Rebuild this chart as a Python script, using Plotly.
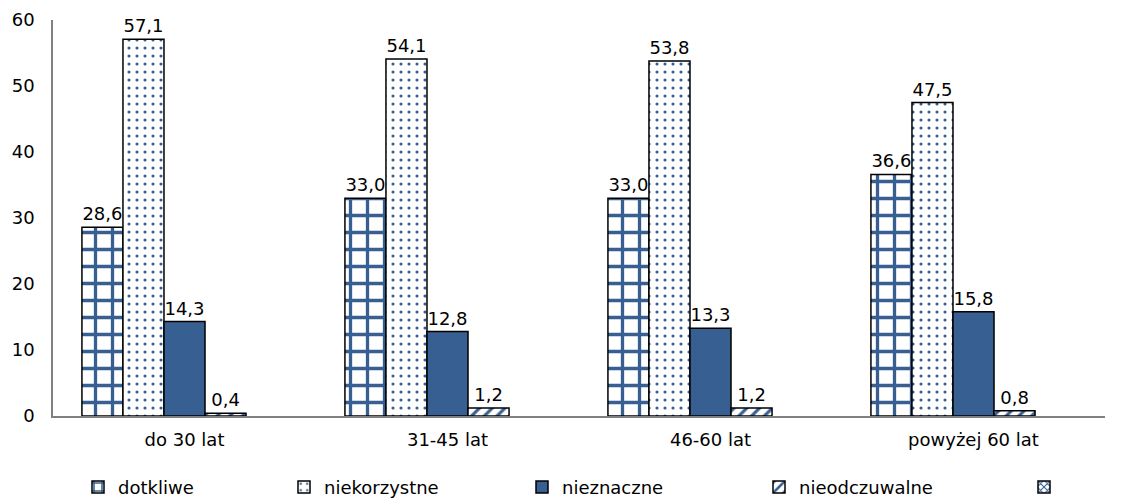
import plotly.graph_objects as go

categories = ["do 30 lat", "31-45 lat", "46-60 lat", "powyżej 60 lat"]
dotkliwe = [28.6, 33.0, 33.0, 36.6]
niekorzystne = [57.1, 54.1, 53.8, 47.5]
nieznaczne = [14.3, 12.8, 13.3, 15.8]
nieodczuwalne = [0.4, 1.2, 1.2, 0.8]
y_ticks = [0, 10, 20, 30, 40, 50, 60]

BLUE = "#375F92"
FONT = "DejaVu Sans"

def lab(vals):
    return [f"{v:.1f}".replace(".", ",") for v in vals]

# legend symbol left edges in the reference (pixels), converted to paper x
legend_px = [96, 302, 540, 777, 1042]
def lx(px):
    return (px - 18 - 53) / 1052

fig = go.Figure()
series = [
    ("dotkliwe", dotkliwe, dict(shape="+", size=17, solidity=0.35)),
    ("niekorzystne", niekorzystne, dict(shape=".", size=8, solidity=0.12)),
    ("nieznaczne", nieznaczne, None),
    ("nieodczuwalne", nieodczuwalne, dict(shape="/", size=9, solidity=0.35)),
    (" ", [None] * 4, dict(shape="x", size=6, solidity=0.4)),
]
legend_layout = {}
for i, (name, vals, pat) in enumerate(series):
    marker = dict(color=BLUE, line=dict(color="black", width=1.5))
    if pat is not None:
        pat.update(fgcolor=BLUE, bgcolor="white", fgopacity=1, fillmode="replace")
        marker["pattern"] = pat
    lname = "legend" if i == 0 else f"legend{i + 1}"
    texts = lab(vals) if vals[0] is not None else None
    fig.add_trace(go.Bar(
        x=categories, y=vals, name=name, marker=marker, showlegend=True,
        text=texts, textposition="outside", cliponaxis=False, constraintext="none",
        textfont=dict(family=FONT, size=18, color="black"), legend=lname,
    ))
    legend_layout[lname] = dict(orientation="h", x=lx(legend_px[i]), xanchor="left",
                                y=-0.18, yanchor="middle", itemwidth=30,
                                font=dict(family=FONT, size=18, color="black"))

fig.update_layout(
    width=1127, height=504,
    margin=dict(l=53, r=22, t=20, b=88, autoexpand=False),
    paper_bgcolor="white", plot_bgcolor="white",
    barmode="group", bargap=0.22, bargroupgap=0,
    font=dict(family=FONT, size=18, color="black"),
    showlegend=True,
    **legend_layout,
)
fig.update_xaxes(showline=True, linecolor="#808080", linewidth=1.5, ticks="", automargin=False,
                 tickfont=dict(family=FONT, size=18, color="black"), showgrid=False,
                 ticklabelstandoff=7)
fig.update_yaxes(range=[0, 60], tickvals=y_ticks, showline=True, linecolor="#808080", linewidth=1.5,
                 ticks="", showgrid=False, zeroline=False, automargin=False,
                 tickfont=dict(family=FONT, size=18, color="black"), ticklabelstandoff=13)

fig.write_html("out.html", config={"displayModeBar": False},
               post_script="document.body.style.margin='0';")
